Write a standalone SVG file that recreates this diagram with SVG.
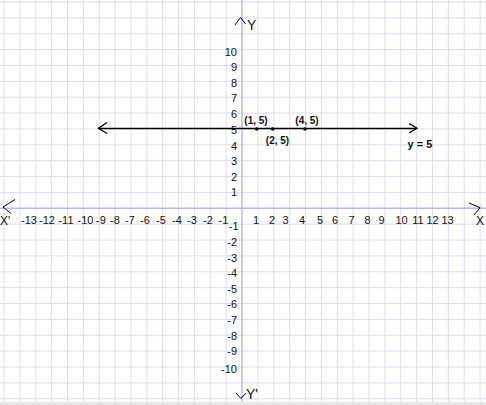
<svg xmlns="http://www.w3.org/2000/svg" width="486" height="405" viewBox="0 0 486 405">
<style>
.grid{stroke:#dcdcf5;stroke-width:1;fill:none}
.axis{stroke:#b8b8ea;stroke-width:1.5;fill:none}
.ch{stroke:#000;stroke-width:1;fill:none}
.ln{stroke:#000;stroke-width:1.5;fill:none}
text{font-family:"Liberation Sans",Arial,sans-serif;fill:#111}
.t{font-size:11px;text-anchor:middle}
.ty{font-size:11px;text-anchor:end}
.p{font-size:10px;font-weight:bold;text-anchor:middle}
.ax{font-size:14px}
</style>
<rect width="486" height="405" fill="#fff"/>
<g id="grid">
<path class="grid" d="M4 0V405M19.87 0V405M35.74 0V405M51.61 0V405M67.48 0V405M83.35 0V405M99.22 0V405M115.09 0V405M130.96 0V405M146.83 0V405M162.7 0V405M178.57 0V405M194.44 0V405M210.31 0V405M226.18 0V405M257.92 0V405M273.79 0V405M289.66 0V405M305.53 0V405M321.4 0V405M337.27 0V405M353.14 0V405M369.01 0V405M384.88 0V405M400.75 0V405M416.62 0V405M432.49 0V405M448.36 0V405M464.23 0V405M480.1 0V405"/>
<path class="grid" d="M0 2H486M0 17.87H486M0 33.74H486M0 49.61H486M0 65.48H486M0 81.35H486M0 97.22H486M0 113.09H486M0 128.96H486M0 144.83H486M0 160.7H486M0 176.57H486M0 192.44H486M0 224.18H486M0 240.05H486M0 255.92H486M0 271.79H486M0 287.66H486M0 303.53H486M0 319.4H486M0 335.27H486M0 351.14H486M0 367.01H486M0 382.88H486M0 398.75H486"/>
<rect x="0" y="402" width="486" height="3" fill="#e6e6e6"/>
</g>
<g id="x-axis">
<path class="axis" d="M0 208.3H486"/>
<path class="ch" d="M15 199.5L3 207L11 213.5"/>
<path class="ch" d="M469 203L480 207.7L474 215"/>
<text class="ax" x="0" y="225" style="font-size:12px">X'</text>
<text class="ax" x="476" y="225" style="font-size:12px">X</text>
</g>
<g id="y-axis">
<path class="axis" d="M242 0V402"/>
<path class="ch" d="M235 25L240.5 17.5L245.5 24"/>
<path class="ch" d="M236 393L241 398.5L246 393"/>
<text class="ax" x="247" y="30">Y</text>
<text class="ax" x="246" y="399">Y'</text>
</g>
<g id="x-labels">
<text class="t" x="29" y="224">-13</text>
<text class="t" x="47" y="224">-12</text>
<text class="t" x="66" y="224">-11</text>
<text class="t" x="85.5" y="224">-10</text>
<text class="t" x="101" y="224">-9</text>
<text class="t" x="115" y="224">-8</text>
<text class="t" x="130" y="224">-7</text>
<text class="t" x="145" y="224">-6</text>
<text class="t" x="161" y="224">-5</text>
<text class="t" x="177" y="224">-4</text>
<text class="t" x="192" y="224">-3</text>
<text class="t" x="208" y="224">-2</text>
<text class="t" x="223.5" y="224">-1</text>
<text class="t" x="256" y="224">1</text>
<text class="t" x="272" y="224">2</text>
<text class="t" x="285.5" y="224">3</text>
<text class="t" x="302" y="224">4</text>
<text class="t" x="320" y="224">5</text>
<text class="t" x="335" y="224">6</text>
<text class="t" x="351.5" y="224">7</text>
<text class="t" x="367.5" y="224">8</text>
<text class="t" x="381.5" y="224">9</text>
<text class="t" x="401.5" y="224">10</text>
<text class="t" x="418" y="224">11</text>
<text class="t" x="432.5" y="224">12</text>
<text class="t" x="447.5" y="224">13</text>
</g>
<g id="y-labels">
<text class="ty" x="237" y="56">10</text>
<text class="ty" x="237" y="71">9</text>
<text class="ty" x="237" y="87">8</text>
<text class="ty" x="237" y="102">7</text>
<text class="ty" x="237" y="118">6</text>
<text class="ty" x="237" y="134">5</text>
<text class="ty" x="237" y="149.5">4</text>
<text class="ty" x="237" y="165">3</text>
<text class="ty" x="237" y="180.5">2</text>
<text class="ty" x="237" y="196">1</text>
<text class="ty" x="238.5" y="230">-1</text>
<text class="ty" x="237" y="246">-2</text>
<text class="ty" x="237" y="262">-3</text>
<text class="ty" x="237" y="277">-4</text>
<text class="ty" x="237" y="293">-5</text>
<text class="ty" x="237" y="308">-6</text>
<text class="ty" x="237" y="324">-7</text>
<text class="ty" x="237" y="339.5">-8</text>
<text class="ty" x="237" y="355">-9</text>
<text class="ty" x="237" y="373">-10</text>
</g>
<g id="connectors">
<path class="ln" d="M98.5 128.6H416.5"/>
<path class="ch" d="M107 122.5L98.5 128.2L107 133.5" style="stroke-width:1.3"/>
<path class="ch" d="M409 123.5L417 128.2L409 133" style="stroke-width:1.3"/>
</g>
<g id="point-1-5">
<circle cx="256.7" cy="129" r="1.8" fill="#000"/>
<text class="p" x="256" y="124">(1, 5)</text>
</g>
<g id="point-2-5">
<circle cx="272.7" cy="129" r="1.8" fill="#000"/>
<text class="p" x="277.5" y="144">(2, 5)</text>
</g>
<g id="point-4-5">
<circle cx="305" cy="129" r="1.8" fill="#000"/>
<text class="p" x="307" y="124">(4, 5)</text>
</g>
<g id="line-label">
<text class="p" x="420" y="148" style="font-size:11px">y = 5</text>
</g>
</svg>
